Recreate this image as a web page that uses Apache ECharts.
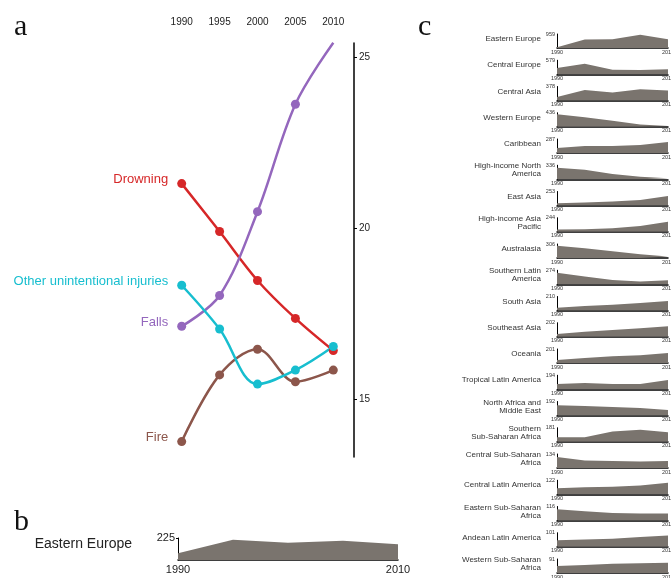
<!DOCTYPE html>
<html>
<head>
<meta charset="utf-8">
<script src="https://cdn.jsdelivr.net/npm/echarts@6/dist/echarts.min.js"></script>
<style>
  html, body { margin: 0; padding: 0; background: #fff; }
  #main { width: 671px; height: 578px; }
</style>
</head>
<body>
<div id="main"></div>
<script>
// ---- Panel a: injury death rates by year ----
const years = [1990, 1995, 2000, 2005, 2010];
const yearTicks = [1990, 1995, 2000, 2005, 2010];
const rateTicks = [15, 20, 25];
const drowning = [21.31, 19.91, 18.48, 17.37, 16.43];
const falls = [17.14, 18.04, 20.49, 23.63, 25.43];
const otherInjuries = [18.34, 17.06, 15.45, 15.86, 16.55];
const fire = [13.77, 15.72, 16.47, 15.52, 15.86];

// ---- Panel b: single region detail ----
const detailRegion = 'Eastern Europe';
const detailMax = 225;
const detailValues = [68, 207, 176, 196, 162];

// ---- Panel c: small multiples per region ----
const regions = [
  'Eastern Europe', 'Central Europe', 'Central Asia', 'Western Europe', 'Caribbean',
  'High-income North\nAmerica', 'East Asia', 'High-income Asia\nPacific', 'Australasia',
  'Southern Latin\nAmerica', 'South Asia', 'Southeast Asia', 'Oceania', 'Tropical Latin America',
  'North Africa and\nMiddle East', 'Southern\nSub-Saharan Africa', 'Central Sub-Saharan\nAfrica',
  'Central Latin America', 'Eastern Sub-Saharan\nAfrica', 'Andean Latin America',
  'Western Sub-Saharan\nAfrica'
];
const regionMax = [959, 579, 378, 436, 287, 336, 253, 244, 306, 274, 210, 202, 201, 194, 192, 181, 134, 122, 116, 101, 91];
const eeValues   = [48, 575, 595, 911, 595];
const ceValues   = [261, 434, 191, 174, 203];
const caValues   = [95, 284, 219, 302, 272];
const weValues   = [392, 296, 183, 70, 22];
const carValues  = [100, 144, 144, 166, 224];
const hinaValues = [279, 228, 128, 60, 27];
const easValues  = [40, 53, 73, 101, 172];
const hiapValues = [39, 44, 63, 102, 173];
const ausValues  = [266, 211, 150, 80, 31];
const slaValues  = [225, 153, 85, 55, 77];
const sasValues  = [42, 67, 86, 113, 143];
const seaValues  = [40, 71, 97, 121, 152];
const oceValues  = [44, 70, 96, 111, 145];
const tlaValues  = [72, 87, 72, 72, 128];
const nameValues = [142, 131, 115, 102, 77];
const sssaValues = [58, 58, 132, 156, 123];
const cssaValues = [105, 72, 66, 62, 66];
const claValues  = [52, 60, 66, 77, 101];
const essaValues = [93, 77, 63, 57, 57];
const alaValues  = [46, 52, 58, 70, 81];
const wssaValues = [46, 52, 60, 63, 67];
const regionValues = [eeValues, ceValues, caValues, weValues, carValues, hinaValues, easValues,
  hiapValues, ausValues, slaValues, sasValues, seaValues, oceValues, tlaValues, nameValues,
  sssaValues, cssaValues, claValues, essaValues, alaValues, wssaValues];

const SANS = '"Liberation Sans", Arial, sans-serif';
const SERIF = '"Liberation Serif", "Times New Roman", serif';
const AREA = '#7a746e';
const plainNumber = v => String(v);

const grids = [], xAxes = [], yAxes = [], series = [], graphics = [];

// Panel a layout
grids.push({ left: 181.7, top: 43, width: 172.3, height: 414, outerBoundsMode: 'none' });
xAxes.push({
  type: 'value', gridIndex: 0, position: 'top', min: 1990, max: 2012.73,
  axisLine: { show: false }, axisTick: { show: false }, splitLine: { show: false },
  axisLabel: { customValues: yearTicks, formatter: plainNumber, margin: 16, fontSize: 10, color: '#222', fontFamily: SANS }
});
yAxes.push({
  type: 'value', gridIndex: 0, position: 'right', min: 13.32, max: 25.42,
  axisLine: { show: true, lineStyle: { color: '#000', width: 1.5 } },
  axisTick: { show: true, customValues: rateTicks, length: 3, lineStyle: { color: '#000' } },
  axisLabel: { customValues: rateTicks, margin: 5, fontSize: 10, color: '#222', fontFamily: SANS },
  splitLine: { show: false }
});

const injurySeries = [
  { name: 'Drowning', values: drowning, color: '#d62728' },
  { name: 'Falls', values: falls, color: '#9467bd' },
  { name: 'Fire', values: fire, color: '#8c564b' },
  { name: 'Other unintentional injuries', values: otherInjuries, color: '#17becf' }
];
injurySeries.forEach(s => {
  series.push({
    type: 'line', name: s.name, xAxisIndex: 0, yAxisIndex: 0,
    smooth: 0.35, symbol: 'circle', symbolSize: 9,
    lineStyle: { width: 2.5, color: s.color }, itemStyle: { color: s.color },
    data: years.map((y, j) => j === 0 ? {
      value: [y, s.values[j]],
      label: {
        show: true, position: 'left', distance: 9, offset: [0, -4],
        formatter: s.name, color: s.color, fontSize: 13, fontFamily: SANS
      }
    } : [y, s.values[j]])
  });
});

// Panel b layout
grids.push({ left: 178, top: 538, width: 220, height: 22, outerBoundsMode: 'none' });
xAxes.push({
  type: 'value', gridIndex: 1, min: 1990, max: 2010,
  axisLine: { show: true, lineStyle: { color: '#000', width: 1.5 } },
  axisTick: { show: false }, splitLine: { show: false },
  axisLabel: { customValues: [1990, 2010], formatter: plainNumber, margin: 4, fontSize: 11, color: '#222', fontFamily: SANS }
});
yAxes.push({
  type: 'value', gridIndex: 1, min: 0, max: detailMax,
  axisLine: { show: true, lineStyle: { color: '#000', width: 1 } },
  axisTick: { show: true, customValues: [detailMax], length: 2, lineStyle: { color: '#000' } },
  axisLabel: { customValues: [detailMax], margin: 3, fontSize: 11, color: '#222', fontFamily: SANS },
  splitLine: { show: false }
});
series.push({
  type: 'line', xAxisIndex: 1, yAxisIndex: 1, symbol: 'none',
  lineStyle: { width: 0 }, areaStyle: { color: AREA, opacity: 1 },
  data: years.map((y, j) => [y, detailValues[j]])
});
graphics.push({
  type: 'text', x: 132, y: 544,
  style: { text: detailRegion, font: '14px ' + SANS, fill: '#222', textAlign: 'right', textVerticalAlign: 'middle' }
});

// Panel c layout: one small grid per region
const ROW0 = 34, ROW_STEP = 26.25, ROW_H = 14;
regions.forEach((name, i) => {
  const gi = grids.length;
  const top = ROW0 + ROW_STEP * i;
  grids.push({ left: 557, top: top, width: 111, height: ROW_H, outerBoundsMode: 'none' });
  xAxes.push({
    type: 'value', gridIndex: gi, min: 1990, max: 2010,
    axisLine: { show: true, lineStyle: { color: '#000', width: 1.5 } },
    axisTick: { show: false }, splitLine: { show: false },
    axisLabel: { customValues: [1990, 2010], formatter: plainNumber, margin: 1, fontSize: 5.5, color: '#333', fontFamily: SANS }
  });
  yAxes.push({
    type: 'value', gridIndex: gi, min: 0, max: regionMax[i],
    axisLine: { show: true, lineStyle: { color: '#000', width: 1 } },
    axisTick: { show: false }, splitLine: { show: false },
    axisLabel: { customValues: [regionMax[i]], margin: 2, fontSize: 5.5, color: '#333', fontFamily: SANS }
  });
  series.push({
    type: 'line', xAxisIndex: gi, yAxisIndex: gi, symbol: 'none',
    lineStyle: { width: 0 }, areaStyle: { color: AREA, opacity: 1 },
    data: years.map((y, j) => [y, regionValues[i][j]])
  });
  graphics.push({
    type: 'text', x: 541, y: top + 5,
    style: {
      text: name, font: '8px ' + SANS, fill: '#333', lineHeight: 8,
      textAlign: 'right', textVerticalAlign: 'middle'
    }
  });
});

// Panel letters
[['a', 14, 42], ['b', 14, 537], ['c', 418, 42]].forEach(([t, x, y]) => {
  graphics.push({
    type: 'text', x: x, y: y,
    style: { text: t, font: '30px ' + SERIF, fill: '#111', textAlign: 'left', textVerticalAlign: 'bottom' }
  });
});

const chart = echarts.init(document.getElementById('main'));
chart.setOption({
  animation: false,
  backgroundColor: '#fff',
  grid: grids,
  xAxis: xAxes,
  yAxis: yAxes,
  series: series,
  graphic: graphics
});
</script>
</body>
</html>
